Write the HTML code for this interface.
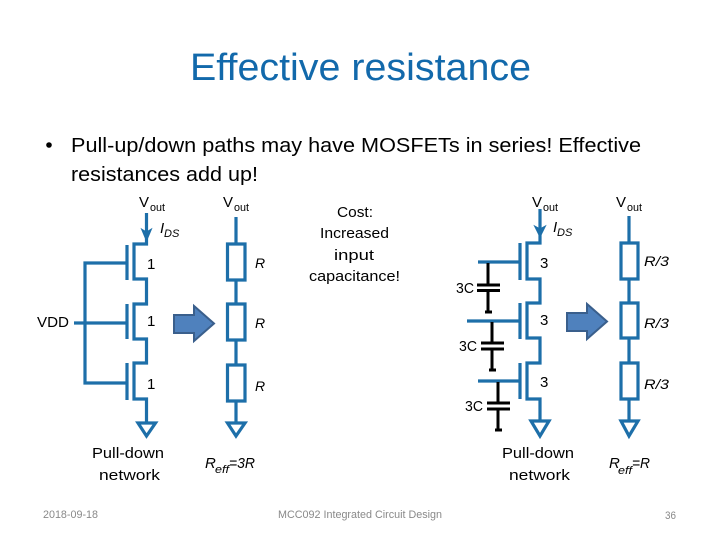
<!DOCTYPE html>
<html><head><meta charset="utf-8"><style>
html,body{margin:0;padding:0;background:#fff;width:720px;height:540px;overflow:hidden}
svg{display:block}
text{font-family:"Liberation Sans",sans-serif;fill:#000}
.w{fill:none;stroke:#1d6fa9;stroke-width:3.2}
.k{fill:none;stroke:#000;stroke-width:3}
.a{fill:#4f81bd;stroke:#3a5f8c;stroke-width:2}
.g{fill:#898989;font-size:11px}
.i{font-style:italic}
</style></head><body>
<svg width="720" height="540" viewBox="0 0 720 540" xmlns="http://www.w3.org/2000/svg">
<text x="190" y="80" font-size="38" style="fill:#1269ab" textLength="341" lengthAdjust="spacingAndGlyphs">Effective resistance</text>
<circle cx="49" cy="145" r="2.8" fill="#000"/>
<text x="71" y="152" font-size="20.500" textLength="570" lengthAdjust="spacingAndGlyphs">Pull-up/down paths may have MOSFETs in series! Effective</text>
<text x="71" y="181" font-size="20.500" textLength="187" lengthAdjust="spacingAndGlyphs">resistances add up!</text>

<!-- left transistors -->
<path class="w" d="M146.500 213V244H134V279H146.500V304H134V339H146.500V363H134V399H146.500V423"/>
<path class="w" d="M127 245V280M127 304V339M127 363V400"/>
<path class="w" d="M127 263H85V383H127M74 323H127"/>
<path d="M141.500 229L146.500 232L151.500 229L146.500 241Z" fill="#1d6fa9" stroke="#1d6fa9"/>
<path class="w" d="M138 423H155.500L146.500 436Z"/>
<!-- left resistors -->
<path class="w" d="M236 217V244M236 280V304M236 340V365M236 401V423"/>
<path class="w" d="M227.500 244H245V280H227.500ZM227.500 304H245V340H227.500ZM227.500 365H245V401H227.500Z"/>
<path class="w" d="M227.500 423H245L236 436Z"/>
<path class="a" d="M174 315H194V306L214 323.500L194 341V333H174Z"/>

<!-- right transistors -->
<path class="w" d="M540 209V243H527V279H540V303H527V338H540V363H527V399H540V421"/>
<path class="w" d="M520 243V280M520 303V339M520 363V399"/>
<path class="w" d="M478 262H520M467 321H520M478 381H520"/>
<path d="M534.500 226L540 229L545.500 226L540 237Z" fill="#1d6fa9" stroke="#1d6fa9"/>
<path class="w" d="M531 421H549L540 436Z"/>
<!-- caps -->
<path class="k" d="M488 263V285M477 285H500M477 290.500H500M488 290.500V312M485 312H492"/>
<path class="k" d="M492 322V343M481 343H504M481 349H504M492 349V370M489 370H496"/>
<path class="k" d="M498 382V403M487 403H510M487 409H510M498 409V430M495 430H502"/>
<!-- right resistors -->
<path class="w" d="M629 216V243M629 279V303M629 338V363M629 399V421"/>
<path class="w" d="M621 243H638V279H621ZM621 303H638V338H621ZM621 363H638V399H621Z"/>
<path class="w" d="M621 421H638L629 436Z"/>
<path class="a" d="M567 313H587V304L607 321.500L587 339V331H567Z"/>

<!-- left labels -->
<text x="139" y="207" font-size="15">V</text><text x="150" y="211" font-size="11" textLength="15" lengthAdjust="spacingAndGlyphs">out</text>
<text x="223" y="207" font-size="15">V</text><text x="234" y="211" font-size="11" textLength="15" lengthAdjust="spacingAndGlyphs">out</text>
<text x="160" y="233" font-size="15" class="i">I</text><text x="164" y="237" font-size="11" class="i">DS</text>
<text x="147" y="269" font-size="15">1</text><text x="147" y="326" font-size="15">1</text><text x="147" y="389" font-size="15">1</text>
<text x="255" y="268" font-size="14" class="i">R</text><text x="255" y="328" font-size="14" class="i">R</text><text x="255" y="391" font-size="14" class="i">R</text>
<text x="37" y="327" font-size="15" textLength="32" lengthAdjust="spacingAndGlyphs">VDD</text>
<text x="92" y="458" font-size="15" textLength="72" lengthAdjust="spacingAndGlyphs">Pull-down</text>
<text x="99" y="480" font-size="15" textLength="61" lengthAdjust="spacingAndGlyphs">network</text>
<text x="205" y="468" font-size="15" class="i">R</text><text x="215" y="473" font-size="11" class="i" textLength="14" lengthAdjust="spacingAndGlyphs">eff</text><text x="229" y="468" font-size="15" class="i" textLength="26" lengthAdjust="spacingAndGlyphs">=3R</text>

<!-- cost -->
<text x="337" y="217" font-size="15" textLength="36" lengthAdjust="spacingAndGlyphs">Cost:</text>
<text x="320" y="238" font-size="15" textLength="69" lengthAdjust="spacingAndGlyphs">Increased</text>
<text x="334" y="260" font-size="15" textLength="40" lengthAdjust="spacingAndGlyphs">input</text>
<text x="309" y="281" font-size="15" textLength="91" lengthAdjust="spacingAndGlyphs">capacitance!</text>

<!-- right labels -->
<text x="532" y="207" font-size="15">V</text><text x="543" y="211" font-size="11" textLength="15" lengthAdjust="spacingAndGlyphs">out</text>
<text x="616" y="207" font-size="15">V</text><text x="627" y="211" font-size="11" textLength="15" lengthAdjust="spacingAndGlyphs">out</text>
<text x="553" y="232" font-size="15" class="i">I</text><text x="557" y="236" font-size="11" class="i">DS</text>
<text x="540" y="268" font-size="15">3</text><text x="540" y="325" font-size="15">3</text><text x="540" y="387" font-size="15">3</text>
<text x="644" y="266" font-size="14" class="i" textLength="25" lengthAdjust="spacingAndGlyphs">R/3</text><text x="644" y="328" font-size="14" class="i" textLength="25" lengthAdjust="spacingAndGlyphs">R/3</text><text x="644" y="389" font-size="14" class="i" textLength="25" lengthAdjust="spacingAndGlyphs">R/3</text>
<text x="456" y="293" font-size="15" textLength="18" lengthAdjust="spacingAndGlyphs">3C</text>
<text x="459" y="351" font-size="15" textLength="18" lengthAdjust="spacingAndGlyphs">3C</text>
<text x="465" y="411" font-size="15" textLength="18" lengthAdjust="spacingAndGlyphs">3C</text>
<text x="502" y="458" font-size="15" textLength="72" lengthAdjust="spacingAndGlyphs">Pull-down</text>
<text x="509" y="480" font-size="15" textLength="61" lengthAdjust="spacingAndGlyphs">network</text>
<text x="609" y="468" font-size="15" class="i">R</text><text x="618" y="474" font-size="11" class="i" textLength="14" lengthAdjust="spacingAndGlyphs">eff</text><text x="632" y="468" font-size="15" class="i" textLength="18" lengthAdjust="spacingAndGlyphs">=R</text>

<!-- footer -->
<text x="43" y="518" class="g" textLength="55" lengthAdjust="spacingAndGlyphs">2018-09-18</text>
<text x="278" y="518" class="g" textLength="164" lengthAdjust="spacingAndGlyphs">MCC092 Integrated Circuit Design</text>
<text x="665" y="519" class="g" textLength="11" lengthAdjust="spacingAndGlyphs">36</text>
</svg>
</body></html>
